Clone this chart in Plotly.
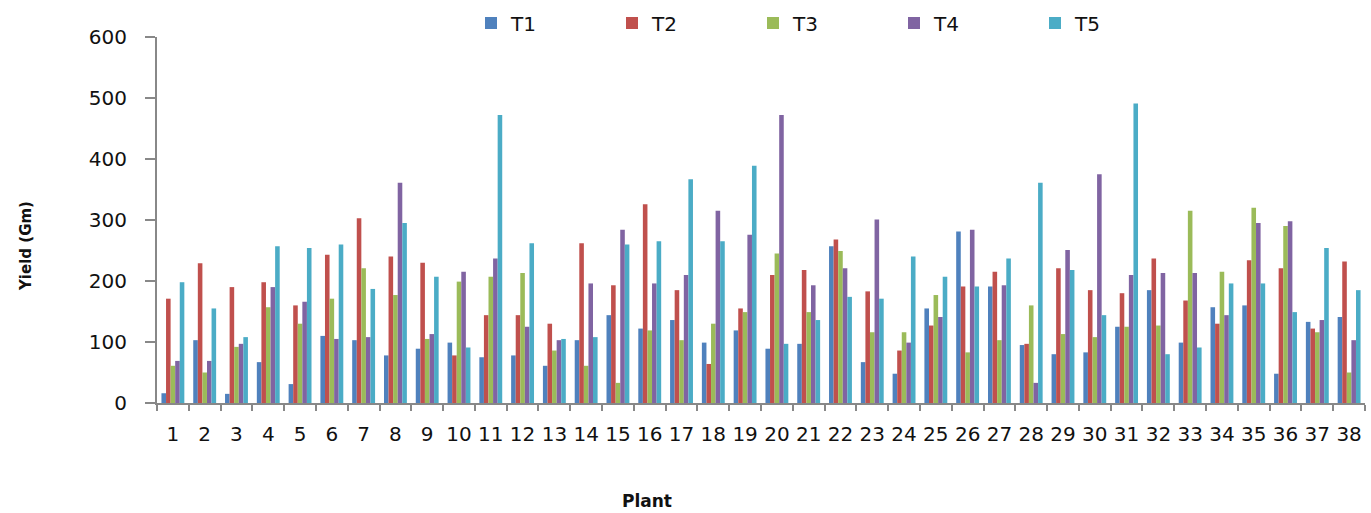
import plotly.graph_objects as go

plants = [str(i) for i in range(1, 39)]

T1 = [16, 103, 15, 67, 31, 110, 103, 78, 89, 99, 75, 78, 61, 103, 144, 122, 136, 99, 119, 89,
      97, 257, 67, 48, 155, 281, 191, 95, 80, 83, 125, 185, 99, 157, 160, 48, 133, 141]
T2 = [171, 229, 190, 198, 160, 243, 303, 240, 230, 78, 144, 144, 130, 262, 193, 326, 185, 64, 155, 210,
      218, 268, 183, 86, 127, 191, 215, 97, 221, 185, 180, 237, 168, 130, 234, 221, 122, 232]
T3 = [61, 50, 92, 157, 130, 171, 221, 177, 105, 199, 207, 213, 86, 61, 33, 119, 103, 130, 149, 245,
      149, 249, 116, 116, 177, 83, 103, 160, 113, 108, 125, 127, 315, 215, 320, 290, 116, 50]
T4 = [69, 69, 97, 190, 166, 105, 108, 361, 113, 215, 237, 125, 103, 196, 284, 196, 210, 315, 276, 472,
      193, 221, 301, 99, 141, 284, 193, 33, 251, 375, 210, 213, 213, 144, 295, 298, 136, 103]
T5 = [198, 155, 108, 257, 254, 260, 187, 295, 207, 91, 472, 262, 105, 108, 260, 265, 367, 265, 389, 97,
      136, 174, 171, 240, 207, 191, 237, 361, 218, 144, 491, 80, 91, 196, 196, 149, 254, 185]

series = [("T1", T1, "#4F81BD"), ("T2", T2, "#C0504D"), ("T3", T3, "#9BBB59"),
          ("T4", T4, "#8064A2"), ("T5", T5, "#4BACC6")]

fig = go.Figure()
for name, vals, color in series:
    fig.add_trace(go.Bar(x=plants, y=vals, name=name, marker=dict(color=color, line=dict(width=0))))

font = "DejaVu Sans"
W, H = 1371, 513
L, R, T, B = 157, 6, 37, 110
plot_h = H - T - B
plot_w = W - L - R

fig.update_layout(
    width=W, height=H,
    margin=dict(l=L, r=R, t=T, b=B, autoexpand=False),
    paper_bgcolor="white", plot_bgcolor="white",
    barmode="group", bargap=0.28, bargroupgap=0,
    font=dict(family=font, size=17, color="#222222"),
    showlegend=True,
    legend=dict(orientation="h", x=(471 - L) / plot_w, xanchor="left",
                yref="container", y=(H - 23) / H, yanchor="middle",
                font=dict(size=20, color="#111111"), entrywidth=96, itemwidth=30,
                bgcolor="rgba(0,0,0,0)"),
    xaxis=dict(type="category", showline=True, linecolor="#888888", linewidth=2,
               ticks="outside", tickson="boundaries", ticklen=6, tickcolor="#888888", tickwidth=2,
               tickangle=0, automargin=False, ticklabelstandoff=12,
               tickfont=dict(size=20, family=font, color="#111111"), showgrid=False),
    yaxis=dict(range=[0, 600], dtick=100, showline=True, linecolor="#888888", linewidth=2,
               ticks="outside", ticklen=10, tickcolor="#888888", tickwidth=2, automargin=False,
               ticklabelstandoff=14,
               tickfont=dict(size=20, family=font, color="#111111"), showgrid=False, zeroline=False),
)
fig.add_annotation(text="<b>Plant</b>", xref="paper", yref="paper",
                   x=(647 - L) / plot_w, y=(H - B - 501) / plot_h,
                   xanchor="center", yanchor="middle",
                   showarrow=False, font=dict(size=17, family=font, color="#111111"))
fig.add_annotation(text="<b>Yield (Gm)</b>", xref="paper", yref="paper",
                   x=(26 - L) / plot_w, y=(H - B - 246) / plot_h, textangle=-90,
                   xanchor="center", yanchor="middle",
                   showarrow=False, font=dict(size=15, family=font, color="#111111"))

fig.write_html("out.html", config={"displayModeBar": False},
               post_script="document.body.style.margin='0';")
